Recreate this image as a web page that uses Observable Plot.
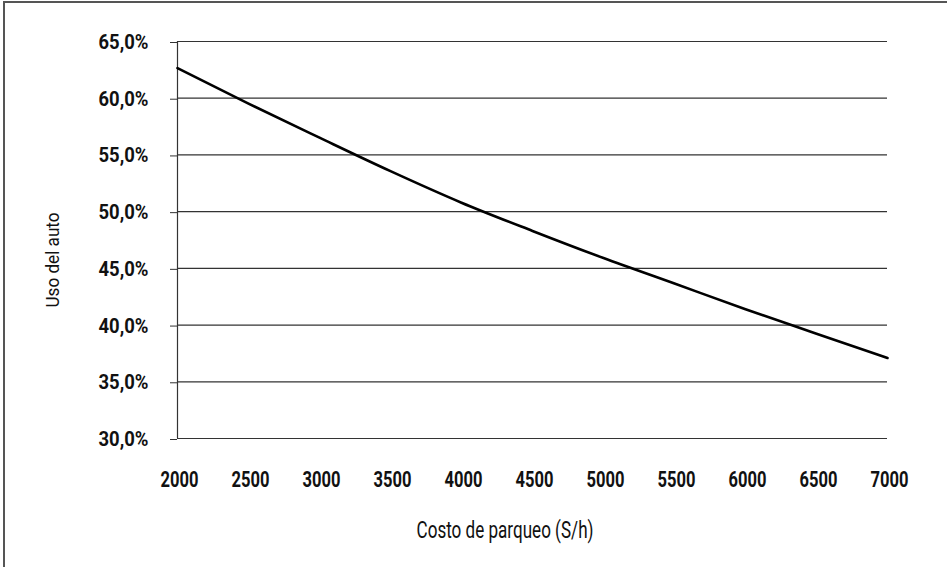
<!DOCTYPE html>
<html>
<head>
<meta charset="utf-8">
<script src="https://cdn.jsdelivr.net/npm/d3@7"></script>
<script src="https://cdn.jsdelivr.net/npm/@observablehq/plot@0.6"></script>
<style>
  html, body { margin: 0; padding: 0; background: #fff; }
  #wrap { position: relative; width: 947px; height: 567px; overflow: hidden; }
  #border { position: absolute; left: 3px; top: 1px; width: 960px; height: 580px;
            border-left: 2px solid #555; border-top: 2px solid #555; pointer-events: none; }
</style>
</head>
<body>
<div id="wrap"><div id="border"></div></div>
<script>
const costo = [2000, 2500, 3000, 3500, 4000, 4500, 5000, 5500, 6000, 6500, 7000];
const usoAuto = [0.6265, 0.5952, 0.5652, 0.5357, 0.5079, 0.4830, 0.4591, 0.4366, 0.4140, 0.3924, 0.3710];
const yTicks = [0.30, 0.35, 0.40, 0.45, 0.50, 0.55, 0.60, 0.65];
const xTitle = "Costo de parqueo (S/h)";
const yTitle = "Uso del auto";

const data = costo.map((c, i) => ({costo: c, uso: usoAuto[i]}));
const fmtPct = d => (d * 100).toFixed(1).replace(".", ",") + "%";
const font = "Roboto, 'DejaVu Sans', sans-serif";

const chart = Plot.plot({
  width: 947,
  height: 567,
  marginLeft: 177,
  marginRight: 60,
  marginTop: 41,
  marginBottom: 129,
  style: {fontFamily: font, background: "transparent", color: "#111"},
  x: {domain: [2000, 7000]},
  y: {domain: [0.30, 0.65]},
  marks: [
    Plot.gridY(yTicks, {stroke: "#333", strokeOpacity: 1, strokeWidth: 1.2}),
    Plot.axisY(yTicks, {tickSize: 7, tickPadding: 22, tickFormat: fmtPct, stroke: "#333",
      fontSize: 20.5, fontWeight: "bold", label: null, dy: 1, className: "ytick"}),
    Plot.axisX(costo, {tickSize: 0, tickPadding: 33, tickFormat: d => String(d),
      fontSize: 22, fontWeight: "bold", label: null, dx: 2, className: "xtick"}),
    Plot.ruleX([2000], {y1: 0.30, y2: 0.65, stroke: "#333", strokeWidth: 1.2}),
    Plot.line(data, {x: "costo", y: "uso", stroke: "#000", strokeWidth: 2.6, curve: "monotone-x"}),
    Plot.text([xTitle], {frameAnchor: "bottom", textAnchor: "middle", lineAnchor: "middle",
      dy: 92, dx: -27.5, fontSize: 23, fill: "#111", className: "xtitle"}),
    Plot.text([yTitle], {frameAnchor: "left", textAnchor: "middle", lineAnchor: "middle",
      rotate: -90, dx: -125, dy: 20, fontSize: 19, fill: "#111", className: "ytitle"})
  ]
});
document.getElementById("wrap").insertBefore(chart, document.getElementById("border"));

// condense glyphs horizontally (the reference uses a condensed typeface)
function condense(selector, targetWidth) {
  const texts = chart.querySelectorAll(selector + " text");
  if (!texts.length) return;
  const w = texts[0].getBBox().width;
  if (!w) return;
  const s = Math.min(1, targetWidth / w);
  if (!isFinite(s)) return;
  texts.forEach(t => {
    const x = parseFloat(t.getAttribute("x"));
    const xx = isFinite(x) ? x : 0;
    const tr = t.getAttribute("transform") || "";
    t.setAttribute("transform", `${tr} translate(${xx},0) scale(${s},1) translate(${-xx},0)`);
  });
}
condense(".xtick", 38);
condense(".ytick", 50);
condense(".xtitle", 177);
condense(".ytitle", 95);
</script>
</body>
</html>
